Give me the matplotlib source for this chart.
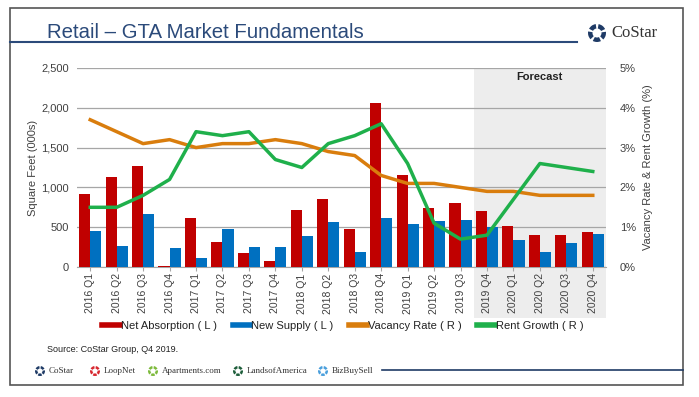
import matplotlib
matplotlib.use("Agg")
import matplotlib.pyplot as plt
from matplotlib.patches import Rectangle, Wedge
from matplotlib.lines import Line2D
import numpy as np

plt.rcParams['font.family'] = ['Liberation Sans', 'DejaVu Sans']

quarters = ["2016 Q1", "2016 Q2", "2016 Q3", "2016 Q4",
            "2017 Q1", "2017 Q2", "2017 Q3", "2017 Q4",
            "2018 Q1", "2018 Q2", "2018 Q3", "2018 Q4",
            "2019 Q1", "2019 Q2", "2019 Q3", "2019 Q4",
            "2020 Q1", "2020 Q2", "2020 Q3", "2020 Q4"]
net_absorption = [920, 1130, 1270, 10, 620, 315, 170, 70, 710, 860,
                  480, 2060, 1150, 740, 810, 700, 520, 400, 400, 440]
new_supply = [455, 265, 660, 240, 115, 480, 255, 245, 385, 560,
              190, 620, 545, 580, 590, 500, 340, 190, 305, 410]
vacancy_rate = [3.7, 3.4, 3.1, 3.2, 3.0, 3.1, 3.1, 3.2, 3.1, 2.9,
                2.8, 2.3, 2.1, 2.1, 2.0, 1.9, 1.9, 1.8, 1.8, 1.8]
rent_growth = [1.5, 1.5, 1.8, 2.2, 3.4, 3.3, 3.4, 2.7, 2.5, 3.1,
               3.3, 3.6, 2.6, 1.1, 0.7, 0.8, 1.7, 2.6, 2.5, 2.4]
forecast_start = "2019 Q4"

RED = "#C00000"
BLUE = "#0070C0"
ORANGE = "#D97D0D"
GREEN = "#1FB04B"
NAVY = "#1F3B66"
TXT = "#404040"

fig = plt.figure(figsize=(6.99, 3.97), dpi=100)

# outer frame
fig.add_artist(Rectangle((10/699, 1-385/397), 673/699, 377/397,
                         transform=fig.transFigure, fill=False,
                         edgecolor="#555555", lw=1.2))

# title + rule
fig.text(47/699, 1-32/397, "Retail \u2013 GTA Market Fundamentals",
         fontsize=14.7, color="#2B4A7A", va="center", ha="left")
fig.add_artist(Line2D([10/699, 577/699], [1-42/397, 1-42/397],
                      transform=fig.transFigure, color="#2B4A7A", lw=1.5))


def logo(px, py, r, color, label, fs, gap):
    # little pinwheel ring like the CoStar mark (px, py in pixels from top-left)
    x, y = px/100, (397 - py)/100
    for k in range(5):
        a = 90 + k*72
        fig.add_artist(Wedge((x, y), r, a+8, a+62, width=r*0.5,
                             transform=fig.dpi_scale_trans,
                             facecolor=color, edgecolor="none"))
    fig.text((px + r*100 + gap)/699, 1 - py/397, label, fontsize=fs,
             family="Liberation Serif", color="#333333",
             va="center", ha="left")


logo(597, 33, 0.09, NAVY, "CoStar", 12, 5)

ax = fig.add_axes([77/699, 1-267/397, 529/699, 199/397])
ax2 = ax.twinx()

x = np.arange(len(quarters))
fs_idx = quarters.index(forecast_start)

# forecast shading (extends into the tick label area)
ax.add_patch(Rectangle((fs_idx - 0.5, -0.255), len(quarters) - fs_idx, 1.255,
                       transform=ax.get_xaxis_transform(), clip_on=False,
                       facecolor="#EDEDED", edgecolor="none", zorder=0))
ax.text((fs_idx - 0.5 + len(quarters) - 0.5)/2, 0.955, "Forecast",
        transform=ax.get_xaxis_transform(), ha="center", va="center",
        fontsize=8, fontweight="bold", color="#222222")

w = 0.42
ax.bar(x - w/2, net_absorption, w, color=RED, zorder=3,
       label="Net Absorption ( L )")
ax.bar(x + w/2, new_supply, w, color=BLUE, zorder=3,
       label="New Supply ( L )")
ax2.plot(x, vacancy_rate, color=ORANGE, lw=2.5, label="Vacancy Rate ( R )")
ax2.plot(x, rent_growth, color=GREEN, lw=2.5, label="Rent Growth ( R )")

ax.set_xlim(-0.5, len(quarters) - 0.5)
ax.set_ylim(0, 2500)
ax.set_yticks(np.arange(0, 2501, 500))
ax.set_yticklabels([f"{v:,}" for v in range(0, 2501, 500)])
ax2.set_ylim(0, 5)
ax2.set_yticks(np.arange(0, 6, 1))
ax2.set_yticklabels([f"{v}%" for v in range(6)])
ax.grid(axis="y", color="#A6A6A6", lw=0.9, zorder=1)
ax.set_axisbelow(True)
ax.set_zorder(ax2.get_zorder() - 1)
ax2.patch.set_visible(False)
ax.patch.set_visible(False)

ax.set_xticks(x)
ax.set_xticklabels(quarters, rotation=90, fontsize=7.5, color=TXT)
ax.tick_params(axis="x", length=3, color="#A6A6A6", pad=1.5)
ax.tick_params(axis="y", length=0, labelsize=8, labelcolor=TXT, pad=6)
ax2.tick_params(axis="y", length=0, labelsize=8, labelcolor=TXT, pad=10)
for a in (ax, ax2):
    for s in a.spines.values():
        s.set_visible(False)
ax.spines["bottom"].set_visible(True)
ax.spines["bottom"].set_color("#A6A6A6")

ax.set_ylabel("Square Feet (000s)", fontsize=8, color=TXT, labelpad=2)
ax2.set_ylabel("Vacancy Rate & Rent Growth (%)", fontsize=8, color=TXT,
               labelpad=5)

handles = [Line2D([], [], color=c, lw=4) for c in (RED, BLUE, ORANGE, GREEN)]
labels = ["Net Absorption ( L )", "New Supply ( L )",
          "Vacancy Rate ( R )", "Rent Growth ( R )"]
fig.legend(handles, labels, loc="center", ncol=4, frameon=False,
           bbox_to_anchor=(343/699, 1-326/397), fontsize=8,
           handlelength=1.6, handletextpad=0.1, columnspacing=1.4,
           labelcolor="#222222")

fig.text(47/699, 1-350/397, "Source: CoStar Group, Q4 2019.",
         fontsize=6.5, color="#222222", va="center")

# brand strip
brand_names = ["CoStar", "LoopNet", "Apartments.com", "LandsofAmerica", "BizBuySell"]
brand_colors = [NAVY, "#D7282F", "#7DBA3C", "#1E5E3B", "#4A9FDC"]
brand_x = [40, 95, 153, 238, 323]
for name, col, px in zip(brand_names, brand_colors, brand_x):
    logo(px, 371, 0.05, col, name, 6.5, 4)
fig.add_artist(Line2D([382/699, 683/699], [1-370/397, 1-370/397],
                      transform=fig.transFigure, color=NAVY, lw=1.2))

fig.savefig("out.png", dpi=100)
